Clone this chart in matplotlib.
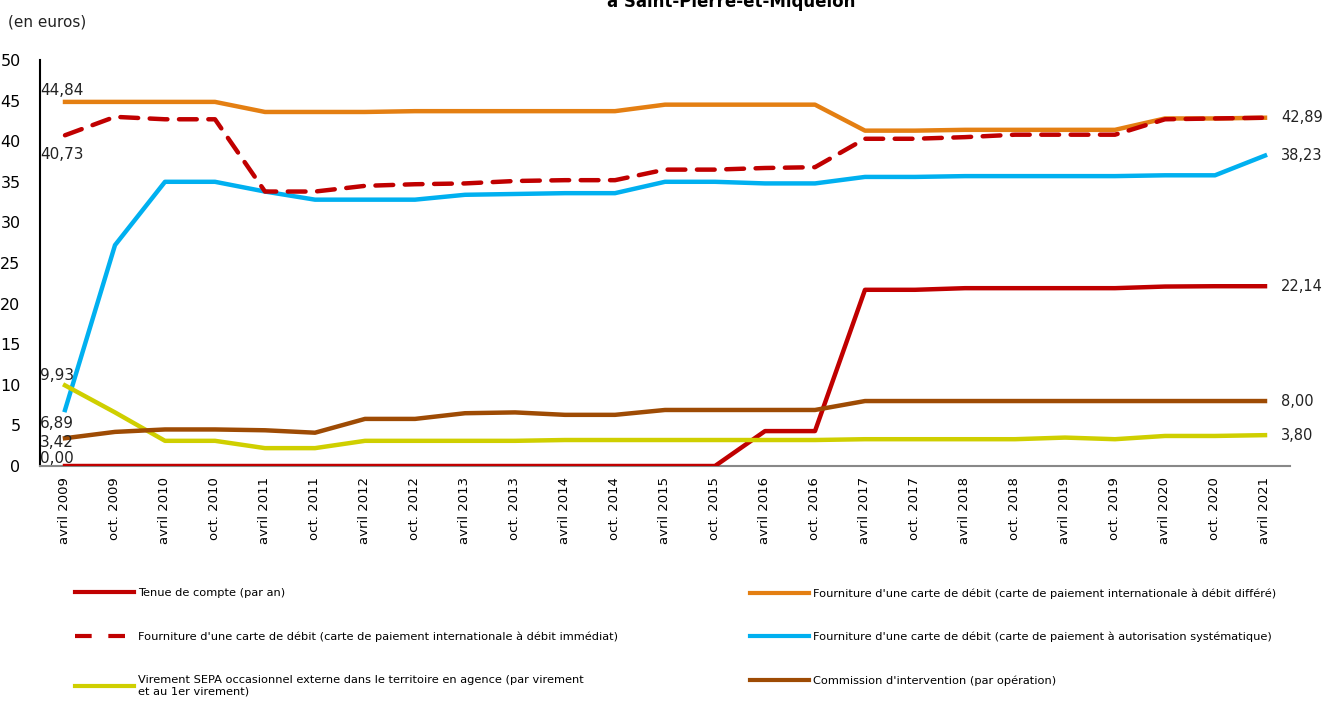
import matplotlib.pyplot as plt
import numpy as np
from matplotlib.lines import Line2D

# ------------------------------------------------------------
# data
# ------------------------------------------------------------
periods = []
for yr in range(2009, 2022):
    periods.append(f"avril {yr}")
    if yr < 2021:
        periods.append(f"oct. {yr}")

tenue = [0, 0, 0, 0, 0, 0, 0, 0, 0, 0, 0, 0, 0, 0, 4.3, 4.3,
         21.7, 21.7, 21.9, 21.9, 21.9, 21.9, 22.1, 22.14, 22.14]
differe = [44.84, 44.84, 44.84, 44.84, 43.6, 43.6, 43.6, 43.7, 43.7, 43.7,
           43.7, 43.7, 44.5, 44.5, 44.5, 44.5, 41.3, 41.3, 41.4, 41.4,
           41.4, 41.4, 42.8, 42.8, 42.89]
immediat = [40.73, 43.0, 42.7, 42.7, 33.8, 33.8, 34.5, 34.7, 34.8, 35.1,
            35.2, 35.2, 36.5, 36.5, 36.7, 36.8, 40.3, 40.3, 40.5, 40.8,
            40.8, 40.8, 42.7, 42.8, 42.89]
autorisation = [6.89, 27.2, 35.0, 35.0, 33.8, 32.8, 32.8, 32.8, 33.4, 33.5,
                33.6, 33.6, 35.0, 35.0, 34.8, 34.8, 35.6, 35.6, 35.7, 35.7,
                35.7, 35.7, 35.8, 35.8, 38.23]
virement = [9.93, 6.6, 3.1, 3.1, 2.2, 2.2, 3.1, 3.1, 3.1, 3.1,
            3.2, 3.2, 3.2, 3.2, 3.2, 3.2, 3.3, 3.3, 3.3, 3.3,
            3.5, 3.3, 3.7, 3.7, 3.80]
commission = [3.42, 4.2, 4.5, 4.5, 4.4, 4.1, 5.8, 5.8, 6.5, 6.6,
              6.3, 6.3, 6.9, 6.9, 6.9, 6.9, 8.0, 8.0, 8.0, 8.0,
              8.0, 8.0, 8.0, 8.0, 8.00]

lab_tenue = "Tenue de compte (par an)"
lab_differe = "Fourniture d'une carte de débit (carte de paiement internationale à débit différé)"
lab_immediat = "Fourniture d'une carte de débit (carte de paiement internationale à débit immédiat)"
lab_autor = "Fourniture d'une carte de débit (carte de paiement à autorisation systématique)"
lab_vir = "Virement SEPA occasionnel externe dans le territoire en agence (par virement\net au 1er virement)"
lab_comm = "Commission d'intervention (par opération)"

RED = "#C00000"
ORANGE = "#E47F12"
BLUE = "#00B0F0"
YELLOW = "#CFCF00"
BROWN = "#9E4B04"

# ------------------------------------------------------------
# figure
# ------------------------------------------------------------
fig = plt.figure(figsize=(13.22, 7.04), dpi=100)
ax = fig.add_axes([40 / 1322, 238 / 704, 1250 / 1322, 406 / 704])

x = np.arange(len(periods))
lw = 3.2

ax.plot(x, tenue, color=RED, lw=lw, zorder=3)
ax.plot(x, differe, color=ORANGE, lw=lw, zorder=3)
ax.plot(x, immediat, color=RED, lw=lw, ls=(0, (4, 2.6)), dash_capstyle="round", zorder=4)
ax.plot(x, autorisation, color=BLUE, lw=lw, zorder=3)
ax.plot(x, virement, color=YELLOW, lw=lw, zorder=3)
ax.plot(x, commission, color=BROWN, lw=lw, zorder=3)

ax.set_xlim(-0.5, len(periods) - 0.5)
ax.set_ylim(0, 50)
ax.set_yticks(np.arange(0, 51, 5))
ax.set_xticks(x)
ax.set_xticklabels(periods, rotation=90, fontsize=9.5)
ax.tick_params(axis="y", length=0, labelsize=11.5, pad=14)
ax.tick_params(axis="x", length=0, pad=8)

for s in ["top", "right"]:
    ax.spines[s].set_visible(False)
ax.spines["left"].set_color("black")
ax.spines["left"].set_linewidth(1.5)
ax.spines["bottom"].set_color("#888888")
ax.spines["bottom"].set_linewidth(1.5)

# data labels, first and last point
def fmt(v):
    return f"{v:.2f}".replace(".", ",")

first_offsets = [
    (tenue, (-25, 0), "bottom"),
    (differe, (-25, 4), "bottom"),
    (immediat, (-25, -12), "top"),
    (autorisation, (-25, -6), "top"),
    (virement, (-25, 2), "bottom"),
    (commission, (-25, -4), "center"),
]
for series, off, va in first_offsets:
    ax.annotate(fmt(series[0]), (x[0], series[0]), xytext=off,
                textcoords="offset pixels", ha="left", va=va,
                fontsize=11, color="#222222", zorder=5)

for series in [differe, autorisation, tenue, commission, virement]:
    ax.annotate(fmt(series[-1]), (x[-1], series[-1]), xytext=(16, 0),
                textcoords="offset pixels", ha="left", va="center",
                fontsize=10.5, color="#222222", annotation_clip=False)

fig.text(8 / 1322, 1 - 22 / 704, "(en euros)", fontsize=11, va="center",
         ha="left", color="#222222")
fig.text(731 / 1322, 1 - 7 / 704, "à Saint-Pierre-et-Miquelon", fontsize=12,
         fontweight="bold", ha="center", va="baseline")

# legend, two columns
def handle(color, dashed=False):
    if dashed:
        return Line2D([], [], color=color, lw=3, ls=(0, (4, 4)))
    return Line2D([], [], color=color, lw=3)

leg_kw = dict(frameon=False, fontsize=8.2, handlelength=5.2, handletextpad=0.3,
              labelspacing=2.9, loc="upper left")
leg1 = fig.legend([handle(RED), handle(RED, True), handle(YELLOW)],
                  [lab_tenue, lab_immediat, lab_vir],
                  bbox_to_anchor=(65 / 1322, 1 - 578 / 704), **leg_kw)
leg2 = fig.legend([handle(ORANGE), handle(BLUE), handle(BROWN)],
                  [lab_differe, lab_autor, lab_comm],
                  bbox_to_anchor=(740 / 1322, 1 - 578 / 704), **leg_kw)

fig.savefig("out.png", dpi=100)
